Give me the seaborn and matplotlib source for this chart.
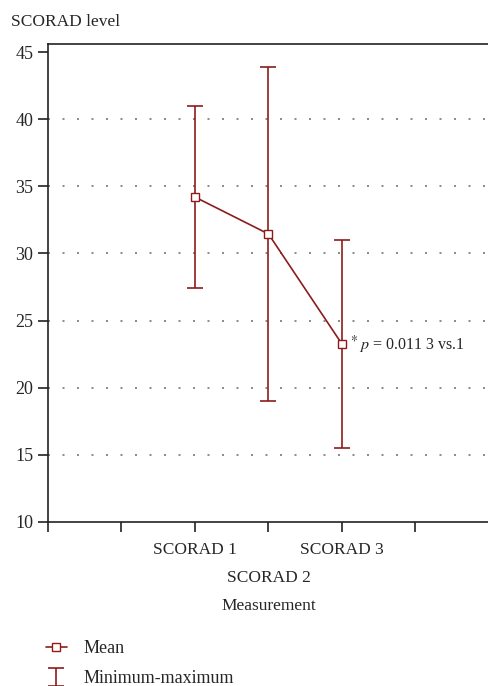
import numpy as np
import matplotlib
matplotlib.use("Agg")
import matplotlib.pyplot as plt
import seaborn as sns

# data
measurements = ["SCORAD 1", "SCORAD 2", "SCORAD 3"]
means = [34.2, 31.45, 23.25]
minimums = [27.4, 19.0, 15.5]
maximums = [41.0, 43.85, 31.0]
positions = [2, 3, 4]

red = "#8b1c1c"

sns.set_style("white")
plt.rcParams["font.family"] = ["Liberation Serif", "DejaVu Serif"]
plt.rcParams["mathtext.fontset"] = "stix"
plt.rcParams["font.size"] = 12.5

fig = plt.figure(figsize=(4.89, 6.86), dpi=100)
ax = fig.add_axes([48 / 489, 1 - 522 / 686, 1 - 48 / 489, (522 - 44) / 686])

means_a = np.array(means)
err = [means_a - np.array(minimums), np.array(maximums) - means_a]
ax.errorbar(positions, means, yerr=err, fmt="none", ecolor=red, elinewidth=1.2,
            capsize=6, capthick=1.2, label="Minimum-maximum", zorder=3)
sns.lineplot(x=positions, y=means, ax=ax, color=red, marker="s", markersize=5.8,
             markerfacecolor="white", markeredgecolor=red, markeredgewidth=1.0,
             linewidth=1.2, label="Mean", zorder=4)

ax.set_xlim(0, 6)
ax.set_ylim(10, 45.6)
ax.set_yticks(range(10, 50, 5))
ax.set_xticks(range(0, 7))
ax.set_xticklabels([])
for y in range(15, 45, 5):
    ax.axhline(y, color="#777777", linestyle=(0, (1.2, 7.5)), linewidth=1.2, zorder=1)

for s in ["left", "bottom", "top"]:
    ax.spines[s].set_color("#222222")
    ax.spines[s].set_linewidth(1.2)
ax.spines["right"].set_visible(False)
ax.tick_params(axis="both", direction="out", length=7, width=1.2, color="#222222",
               labelsize=13, left=True, bottom=True)

# staggered category labels
for i, (p, name) in enumerate(zip(positions, measurements)):
    off = -0.058 if i % 2 == 0 else -0.118
    ax.text(p, off, name, transform=ax.get_xaxis_transform(), ha="center", va="center",
            fontsize=12.5)
ax.text(3, -0.175, "Measurement", transform=ax.get_xaxis_transform(), ha="center",
        va="center", fontsize=12.5)

ax.annotate(r"$^{*}$", xy=(positions[2], means[2]),
            xytext=(6, -1), textcoords="offset points", ha="left", va="center", fontsize=14)
ax.annotate(r"$\mathit{p}$ = 0.011 3 vs.1", xy=(positions[2], means[2]),
            xytext=(12, -1), textcoords="offset points", ha="left", va="center", fontsize=11.5)

fig.text(11 / 489, 1 - 22 / 686, "SCORAD level", ha="left", va="center", fontsize=12.5)

if ax.legend_:
    ax.legend_.remove()
handles, labels = ax.get_legend_handles_labels()
order = [labels.index("Mean"), labels.index("Minimum-maximum")]
fig.legend([handles[i] for i in order], [labels[i] for i in order], loc="lower left",
           bbox_to_anchor=(0.06, -0.025), frameon=False, fontsize=13,
           handlelength=1.2, labelspacing=0.7, handletextpad=0.9)

fig.savefig("out.png", dpi=100)
